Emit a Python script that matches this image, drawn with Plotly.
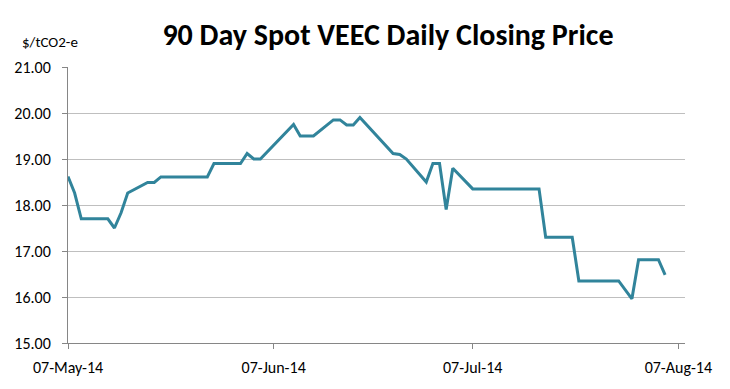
import plotly.graph_objects as go

dates = [
    "2014-05-07", "2014-05-08", "2014-05-09", "2014-05-12", "2014-05-13",
    "2014-05-14", "2014-05-15", "2014-05-16", "2014-05-19", "2014-05-20",
    "2014-05-21", "2014-05-22", "2014-05-23", "2014-05-26", "2014-05-27",
    "2014-05-28", "2014-05-29", "2014-05-30", "2014-06-02", "2014-06-03",
    "2014-06-04", "2014-06-05", "2014-06-10", "2014-06-11", "2014-06-12",
    "2014-06-13", "2014-06-16", "2014-06-17", "2014-06-18", "2014-06-19",
    "2014-06-20", "2014-06-25", "2014-06-26", "2014-06-27", "2014-06-30",
    "2014-07-01", "2014-07-02", "2014-07-03", "2014-07-04", "2014-07-07",
    "2014-07-08", "2014-07-09", "2014-07-10", "2014-07-11", "2014-07-14",
    "2014-07-15", "2014-07-16", "2014-07-17", "2014-07-18", "2014-07-21",
    "2014-07-22", "2014-07-23", "2014-07-24", "2014-07-25", "2014-07-28",
    "2014-07-29", "2014-07-31", "2014-08-01", "2014-08-04", "2014-08-05",
]
prices = [
    18.62, 18.26, 17.70, 17.70, 17.70,
    17.50, 17.83, 18.26, 18.49, 18.49,
    18.61, 18.61, 18.61, 18.61, 18.61,
    18.61, 18.90, 18.90, 18.90, 19.12,
    19.00, 19.00, 19.75, 19.50, 19.50,
    19.50, 19.85, 19.85, 19.74, 19.74,
    19.90, 19.12, 19.10, 19.00, 18.50,
    18.90, 18.90, 17.90, 18.80, 18.35,
    18.35, 18.35, 18.35, 18.35, 18.35,
    18.35, 18.35, 18.35, 17.30, 17.30,
    17.30, 16.35, 16.35, 16.35, 16.35,
    16.35, 15.96, 16.81, 16.81, 16.48,
]

tick_dates = ["2014-05-07", "2014-06-07", "2014-07-07", "2014-08-07"]
tick_labels = ["07-May-14", "07-Jun-14", "07-Jul-14", "07-Aug-14"]
y_ticks = [15, 16, 17, 18, 19, 20, 21]

FONT = "Carlito, 'Liberation Sans Narrow', Lato, sans-serif"

fig = go.Figure()
fig.add_trace(go.Scatter(
    x=dates, y=prices, mode="lines",
    line=dict(color="#31849B", width=3),
    hoverinfo="x+y",
))

fig.update_layout(
    width=730, height=389,
    margin=dict(l=60, r=53, t=59, b=54, autoexpand=False),
    paper_bgcolor="white", plot_bgcolor="white",
    showlegend=False,
    font=dict(family=FONT, color="black", size=15),
    title=dict(
        text="<b>90 Day Spot VEEC Daily Closing Price</b>",
        x=0.5205, xanchor="center", xref="container",
        y=0.932, yanchor="middle", yref="container",
        font=dict(family=FONT, size=30, color="black"),
    ),
    annotations=[dict(
        text="$/tCO2-e", xref="paper", yref="paper",
        x=-0.078, y=1.09, xanchor="left", yanchor="middle",
        showarrow=False, font=dict(family=FONT, size=15, color="black"),
    )],
)

fig.update_xaxes(
    type="date", automargin=False,
    range=["2014-05-07", "2014-08-08"],
    tickvals=tick_dates, ticktext=tick_labels,
    showgrid=False, zeroline=False,
    showline=True, linecolor="#868686", linewidth=1,
    ticks="outside", ticklen=5, tickcolor="#868686",
    ticklabelstandoff=5,
    tickfont=dict(family=FONT, size=16, color="black"),
)
fig.update_yaxes(
    automargin=False,
    range=[15, 21],
    tickvals=y_ticks, tickformat=".2f",
    showgrid=True, gridcolor="#BFBFBF", gridwidth=1,
    zeroline=False,
    showline=True, linecolor="#868686", linewidth=1,
    ticks="outside", ticklen=5, tickcolor="#868686",
    ticklabelstandoff=8,
    tickfont=dict(family=FONT, size=16, color="black"),
)

fig.write_html("out.html")
